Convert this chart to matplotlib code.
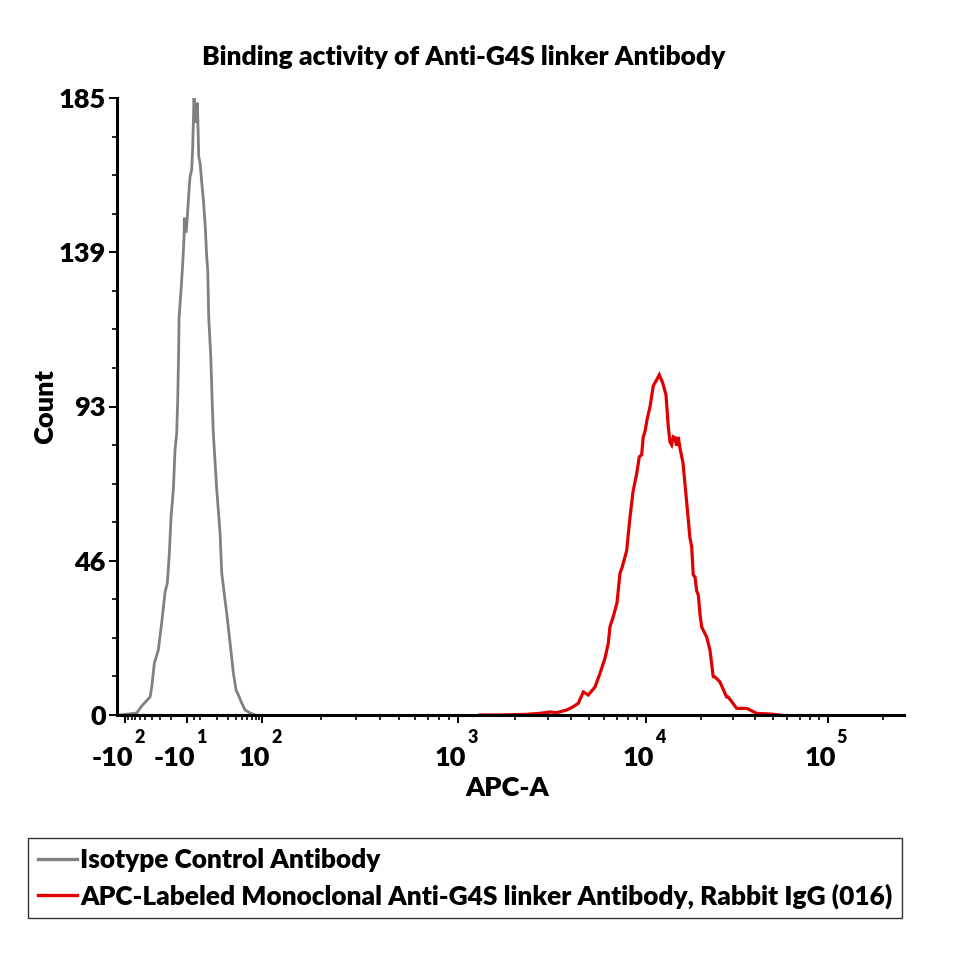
import numpy as np
import matplotlib
matplotlib.use("Agg")
import matplotlib.pyplot as plt
import matplotlib.transforms as mtransforms
from matplotlib.lines import Line2D

plt.rcParams['font.family'] = ['Lato', 'DejaVu Sans']
plt.rcParams['font.weight'] = 'heavy'

# histogram traces, x in display channels (0-1024), y in counts
iso_channel = [0, 21.8, 28.3, 39.2, 41.4, 44.8, 50.0, 54.5, 58.8, 61.8, 64.4, 66.6, 69.6,
               71.8, 74.0, 75.3, 76.4, 77.1, 79.7, 81.9, 83.6, 84.0, 86.2, 87.9, 90.1,
               91.4, 93.6, 94.9, 95.7, 96.6, 98.3, 99.9, 101.0, 101.9, 102.8, 104.5,
               106.7, 108.8, 111.0, 113.2, 114.5, 115.8, 118.5, 120.4, 121.8, 126.3,
               130.6, 132.8, 137.1, 139.3, 143.7, 148.0, 151.5, 154.5, 158.9, 163.3,
               169.8, 176.3]
iso_count = [0, 0.6, 2.7, 5.4, 8.4, 15.6, 19.5, 27.9, 36.9, 39.6, 48.6, 59.4, 67.5,
             79.5, 84.6, 94.5, 107.4, 119.4, 127.5, 135.6, 143.4, 149.1, 144.6, 149.4,
             157.5, 161.4, 163.5, 170.4, 177.6, 185.0, 177.6, 181.5, 183.6, 175.5, 167.4,
             165.6, 159.6, 154.5, 147.6, 137.4, 133.5, 119.4, 107.4, 93.6, 84.6, 67.5,
             54.6, 42.6, 34.5, 30.6, 21.6, 12.6, 7.5, 6.0, 3.6, 1.5, 0.6, 0]

apc_channel = [470.2, 496.3, 531.1, 548.5, 561.6, 570.3, 583.4, 592.0, 598.5, 605.1,
               611.6, 620.4, 626.9, 633.4, 637.7, 639.9, 644.2, 649.1, 653.0, 655.6,
               661.7, 666.0, 670.0, 674.8, 678.2, 681.3, 683.4, 685.7, 688.3, 692.2,
               696.5, 700.9, 704.3, 708.8, 713.1, 716.1, 718.3, 720.5, 722.6, 724.8,
               727.0, 729.1, 731.3, 735.3, 740.1, 744.4, 746.7, 748.7, 751.0, 753.2,
               755.3, 757.5, 759.7, 766.2, 770.5, 774.8, 777.1, 783.6, 792.3, 794.4,
               805.4, 818.5, 831.5, 848.9, 862.0]
apc_count = [0, 0, 0.2, 0.5, 0.9, 0.7, 1.5, 2.5, 3.5, 6.9,
             6.0, 8.4, 12.5, 17.0, 21.5, 26.4, 29.5, 33.6, 42.5, 44.1,
             49.2, 59.1, 66.9, 72.3, 77.4, 78.0, 83.4, 85.0, 88.5, 92.4,
             98.7, 100.5, 102.0, 99.6, 96.0, 86.4, 81.9, 81.0, 83.4, 83.1,
             80.7, 83.4, 80.1, 75.6, 63.9, 53.1, 50.4, 42.0, 41.4, 37.2,
             36.0, 30.3, 26.4, 23.4, 19.5, 11.5, 11.4, 9.9, 5.4, 5.4,
             2.0, 2.0, 0.5, 0.3, 0]

# biexponential display: APC-A value -> channel
axis_values = [-100, -10, 0, 10, 100, 1e3, 1e4, 1e5, 262144]
axis_channels = [6.5, 87.5, 96.0, 104.5, 185.5, 441.8, 687.0, 924.3, 1024]

major_values = [-100, -10, 100, 1000, 10000, 100000]
major_bases = ['-10', '-10', '10', '10', '10', '10']
major_exps = ['2', '1', '2', '3', '4', '5']

count_max = 185
count_labels = ['0', '46', '93', '139', '185']

labels = ['Isotype Control Antibody',
          'APC-Labeled Monoclonal Anti-G4S linker Antibody, Rabbit IgG (016)']
colors = ['#808080', '#e00000']


def biex(v):
    s = np.arcsinh(np.asarray(v, dtype=float) / 10)
    return np.interp(s, np.arcsinh(np.array(axis_values) / 10), axis_channels)


minor_values = [v for v in range(-90, 100, 10)]
minor_values += [k * 10 ** d for d in range(2, 6) for k in range(2, 10) if k * 10 ** d < 262144]

fig = plt.figure(figsize=(9.6, 9.6), dpi=100)
ax = fig.add_axes([117 / 960, 1 - 715 / 960, 787 / 960, 617 / 960])

ax.plot(iso_channel, iso_count, color=colors[0], lw=2.0, solid_joinstyle='miter')
ax.plot(apc_channel, apc_count, color=colors[1], lw=2.3, solid_joinstyle='miter')

ax.set_xlim(-4, 1024)
ax.set_ylim(0, count_max)

for side in ['top', 'right']:
    ax.spines[side].set_visible(False)
for side in ['left', 'bottom']:
    ax.spines[side].set_linewidth(2.2)

# x ticks
ax.set_xticks(biex(major_values))
ax.set_xticks(biex(minor_values), minor=True)
ax.set_xticklabels([])
ax.tick_params(axis='x', which='major', direction='out', length=6, width=1.4)
ax.tick_params(axis='x', which='minor', direction='out', length=3.5, width=1.2)

# y ticks
y_major = np.linspace(0, count_max, 5)
y_minor = np.linspace(0, count_max, 17)
ax.set_yticks(y_major)
ax.set_yticks(y_minor, minor=True)
ax.set_yticklabels(count_labels)
ax.tick_params(axis='y', which='major', direction='out', length=6, width=1.4,
               labelsize=19.5, pad=2)
ax.tick_params(axis='y', which='minor', direction='out', length=3.5, width=1.2)

# x tick labels as base + raised exponent
blend = mtransforms.blended_transform_factory(ax.transData, ax.transAxes)
base_tr = mtransforms.offset_copy(blend, fig=fig, x=8, y=0, units='dots')
exp_tr = mtransforms.offset_copy(blend, fig=fig, x=9, y=0, units='dots')
for v, b, e in zip(major_values, major_bases, major_exps):
    c = float(biex(v))
    ax.text(c, -51 / 617, b, transform=base_tr, ha='right', va='baseline', fontsize=19.5)
    ax.text(c, -28 / 617, e, transform=exp_tr, ha='left', va='baseline', fontsize=13)

fig.text(464 / 960, 1 - 57 / 960, 'Binding activity of Anti-G4S linker Antibody',
         ha='center', va='center', fontsize=19)
fig.text(507 / 960, 1 - 788 / 960, 'APC-A', ha='center', va='center', fontsize=19.5)
fig.text(45 / 960, 1 - 407 / 960, 'Count', ha='center', va='center', rotation=90,
         fontsize=19.5)

handles = [Line2D([], [], color=c, lw=2.4) for c in colors]
leg = fig.legend(handles, labels, loc='upper left', bbox_to_anchor=(28 / 960, 1 - 838 / 960),
                 fontsize=18.9, frameon=True, fancybox=False, edgecolor='black',
                 borderpad=0.38, labelspacing=0.42, handlelength=1.5, handletextpad=0.1,
                 borderaxespad=0)
leg.get_frame().set_linewidth(1.0)

fig.savefig('out.png', dpi=100)
